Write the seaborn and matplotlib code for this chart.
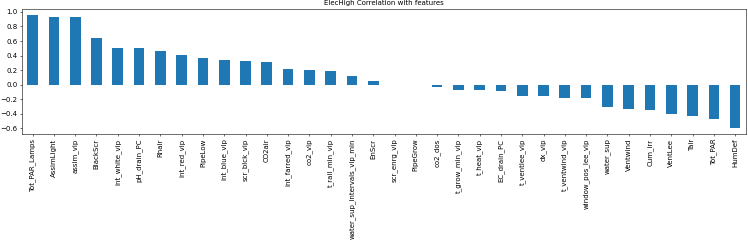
import matplotlib
matplotlib.use("Agg")
import matplotlib.pyplot as plt
import seaborn as sns

features = [
    "Tot_PAR_Lamps", "AssimLight", "assim_vip", "BlackScr", "int_white_vip",
    "pH_drain_PC", "Rhair", "int_red_vip", "PipeLow", "int_blue_vip",
    "scr_blck_vip", "CO2air", "int_farred_vip", "co2_vip", "t_rail_min_vip",
    "water_sup_intervals_vip_min", "EnScr", "scr_enrg_vip", "PipeGrow", "co2_dos",
    "t_grow_min_vip", "t_heat_vip", "EC_drain_PC", "t_ventlee_vip", "dx_vip",
    "t_ventwind_vip", "window_pos_lee_vip", "water_sup", "Ventwind", "Cum_irr",
    "VentLee", "Tair", "Tot_PAR", "HumDef",
]
corr = [
    0.955, 0.93, 0.928, 0.64, 0.51,
    0.51, 0.465, 0.41, 0.36, 0.345,
    0.325, 0.31, 0.215, 0.20, 0.19,
    0.12, 0.045, -0.01, -0.01, -0.037,
    -0.07, -0.078, -0.09, -0.155, -0.155,
    -0.18, -0.185, -0.31, -0.338, -0.35,
    -0.40, -0.434, -0.47, -0.60,
]

fs = 5.0
plt.rcParams.update({
    "font.size": fs,
    "axes.linewidth": 0.4,
    "xtick.major.width": 0.4,
    "ytick.major.width": 0.4,
    "xtick.major.size": 1.7,
    "ytick.major.size": 1.7,
    "xtick.major.pad": 1.7,
    "ytick.major.pad": 1.7,
})

fig = plt.figure(figsize=(7.48, 2.43), dpi=100)
ax = fig.add_axes([0.0294, 0.449, 0.9676, 0.513])

sns.barplot(x=features, y=corr, color="#1f77b4", saturation=1, width=0.5, ax=ax)

ax.set_title("ElecHigh Correlation with features", fontsize=fs, pad=2.8)
ax.tick_params(axis="x", rotation=90, labelsize=fs)
ax.tick_params(axis="y", labelsize=fs)
ax.set_xlim(-0.5, len(features) - 0.5)
ax.set_ylim(-0.6775, 1.037)
ax.set_yticks([-0.6, -0.4, -0.2, 0.0, 0.2, 0.4, 0.6, 0.8, 1.0])

fig.savefig("out.png", dpi=100)
